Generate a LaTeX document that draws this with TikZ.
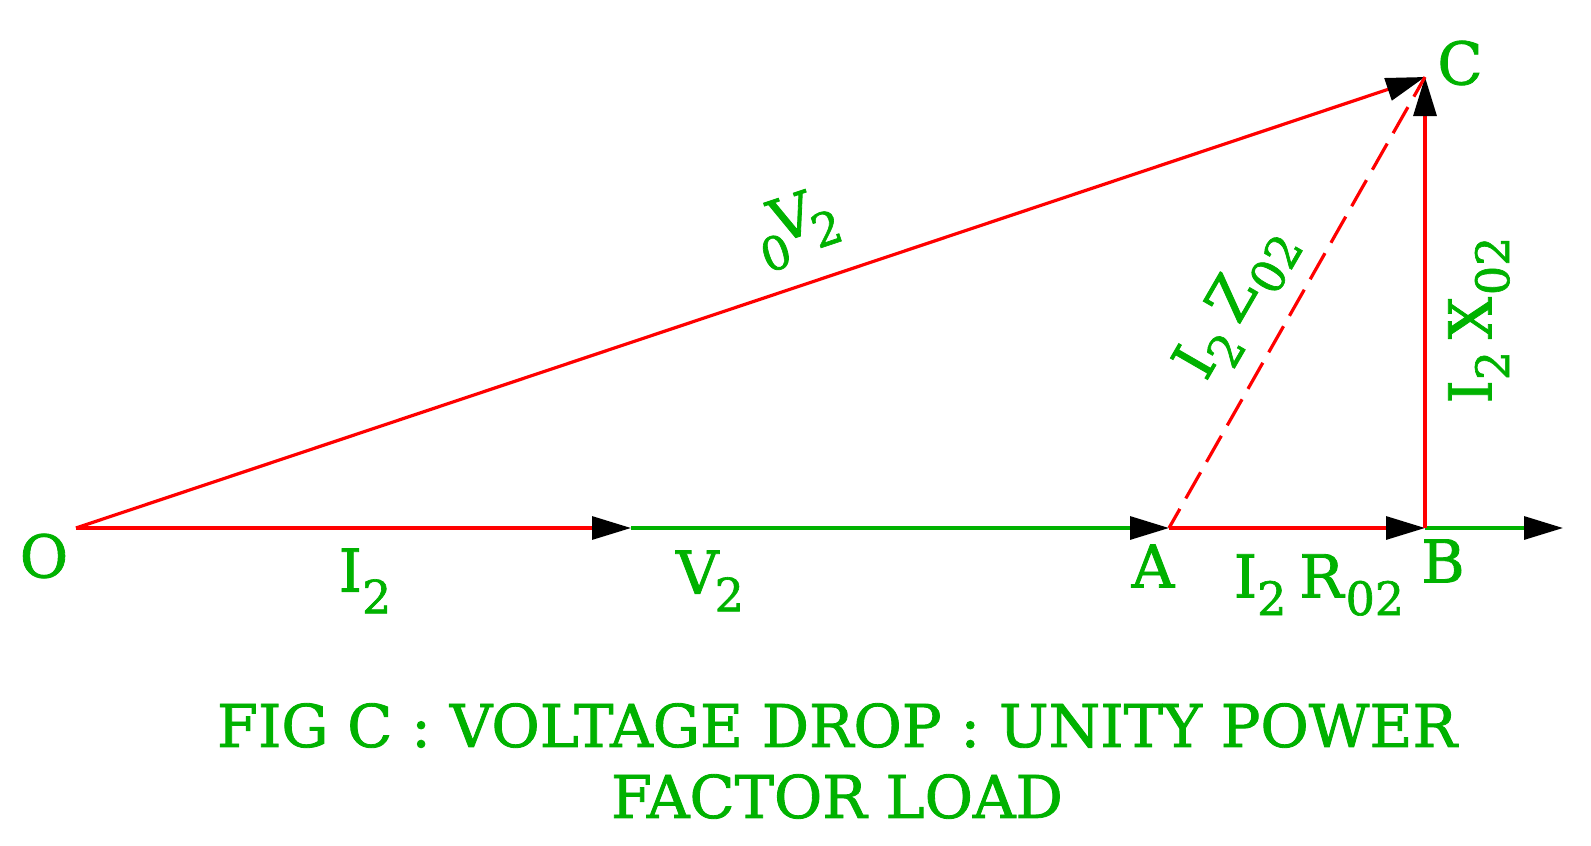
\documentclass[tikz,border=0pt]{standalone}
\usepackage{fontspec}
\setmainfont[FakeBold=1.4]{DejaVu Serif}
\usetikzlibrary{arrows.meta}
\definecolor{lblgreen}{RGB}{0,178,0}
\definecolor{linered}{RGB}{255,0,0}
\newcommand{\lowtxt}[2][0.3em]{\raisebox{-#1}{\fontsize{23}{23}\selectfont #2}}
\tikzset{
  lbl/.style={text=lblgreen,inner sep=0pt,font=\fontsize{29.5}{35.5}\selectfont},
  redvec/.style={draw=linered,line width=1.6pt,-{Triangle[length=19.5pt,width=11.5pt,black]}},
  greenvec/.style={draw=lblgreen,line width=1.6pt,-{Triangle[length=19.5pt,width=11.5pt,black]}},
  reddash/.style={draw=linered,line width=1.6pt,dash pattern=on 15pt off 6pt,dash phase=4pt}
}
\begin{document}
\begin{tikzpicture}[x=0.5pt,y=-0.5pt]
\useasboundingbox (0,0) rectangle (1591,846);
\coordinate (vO) at (76,528);
\coordinate (vI) at (631,528);
\coordinate (vA) at (1169,528);
\coordinate (vB) at (1425,528);
\coordinate (vE) at (1563,528);
\coordinate (vC) at (1425,77);
\draw (vI) edge[greenvec] (vA);
\draw (vB) edge[greenvec] (vE);
\draw (vO) edge[redvec] (vI);
\draw (vO) edge[redvec] (vC);
\draw (vA) edge[redvec] (vB);
\draw (vB) edge[redvec] (vC);
\draw (vA) edge[reddash] (vC);
\node[lbl] (lO) at (44,556) {O};
\node[lbl] (lA) at (1153,566) {A};
\node[lbl] (lB) at (1443,561) {B};
\node[lbl] (lC) at (1460,63) {C};
\node[lbl] (lI) at (365,581) {I\lowtxt[0.37em]{2}};
\node[lbl] (lV) at (710,581) {V\kern-2pt\lowtxt{2}};
\node[lbl] (lR) at (1319,585) {I\lowtxt{2}\kern-3pt\ R\kern1pt\lowtxt{02}};
\node[lbl,rotate=90] (lX) at (1479,320) {I\lowtxt{2}\kern-3.5pt\ X\kern1pt\lowtxt{02}};
\node[lbl,rotate=60] (lZ) at (1237,304) {I\lowtxt{2}\kern-3pt\ Z\kern1pt\lowtxt{02}};
\node[lbl,rotate=18.5] (lS) at (797,228) {\lowtxt[0.42em]{0}\kern-5pt V\kern-3pt\lowtxt{2}};
\node[lbl,align=center] (lT) at (837,761) {FIG C : VOLTAGE DROP : UNITY POWER\\FACTOR LOAD};
\end{tikzpicture}
\end{document}
